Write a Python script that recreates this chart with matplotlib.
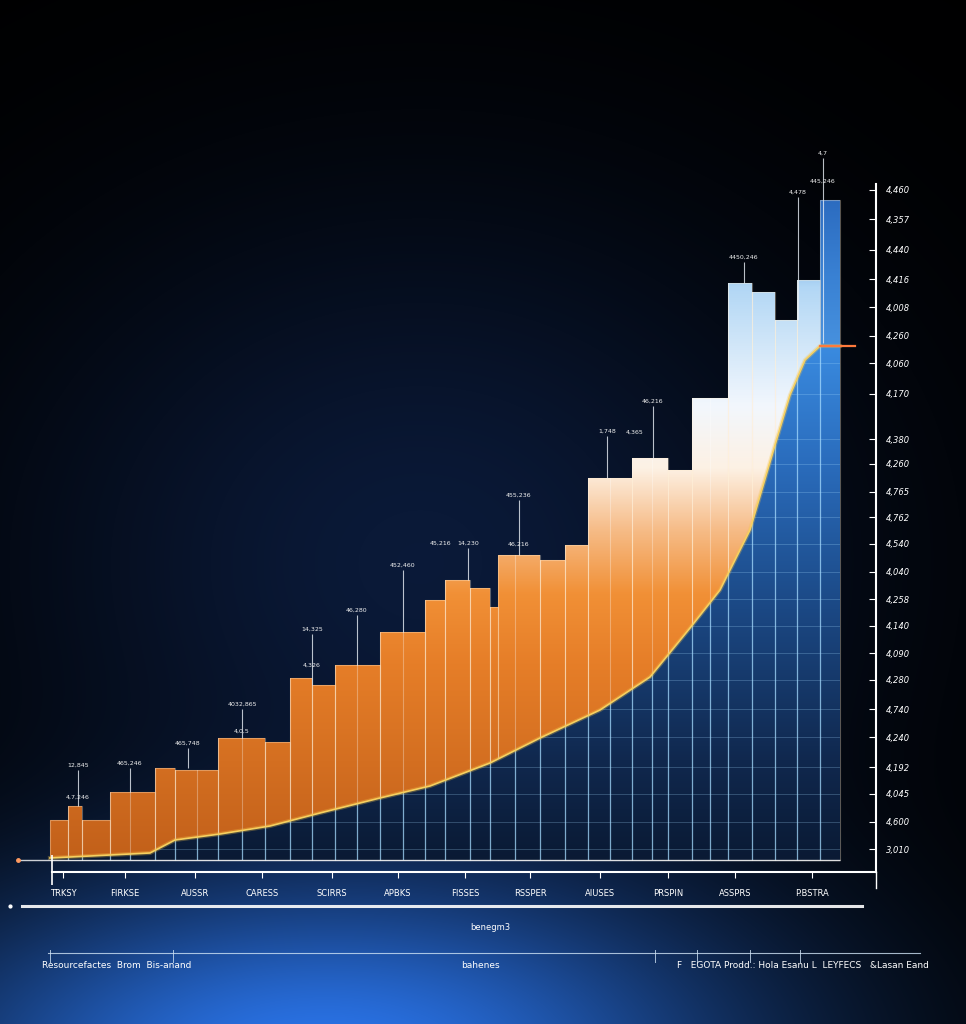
import numpy as np
import matplotlib.pyplot as plt
from matplotlib.path import Path
from matplotlib.patches import PathPatch
from matplotlib.colors import LinearSegmentedColormap

# --- data (x in chart units, values in chart units) ---
bar_edges = [5.0, 6.8, 8.2, 11.0, 15.5, 17.5, 21.8, 26.5, 29.0, 31.2, 33.5, 38.0, 42.5, 44.5,
             47.0, 49.0, 49.8, 54.0, 56.5, 58.8, 63.2, 66.8, 69.2, 72.8, 75.2, 77.5, 79.7, 82.0, 84.0]
bar_heights = [4.0, 5.4, 4.0, 6.8, 9.2, 9.0, 12.2, 11.8, 18.2, 17.5, 19.5, 22.8, 26.0, 28.0,
               27.2, 25.3, 30.5, 30.0, 31.5, 38.2, 40.2, 39.0, 46.2, 57.7, 56.8, 54.0, 58.0, 66.0]

curve_x = [5.0, 15.0, 17.5, 22.0, 27.0, 32.0, 38.0, 43.0, 49.0, 54.0, 60.0, 65.0, 69.0, 72.0,
           75.0, 77.5, 79.0, 80.5, 82.0, 84.0]
curve_y = [0.2, 0.7, 2.0, 2.6, 3.4, 4.7, 6.2, 7.4, 9.7, 12.2, 15.0, 18.3, 23.2, 27.0,
           33.0, 41.5, 46.5, 50.0, 51.4, 51.4]

grid_x = [6.8, 8.2, 11.0, 13.0, 15.5, 17.5, 19.7, 21.8, 24.2, 26.5, 29.0, 31.2, 33.5, 35.7,
          38.0, 40.3, 42.5, 44.5, 47.0, 49.0, 51.5, 54.0, 56.5, 58.8, 61.0, 63.2, 65.2, 66.8,
          69.2, 71.0, 72.8, 75.2, 77.5, 79.7, 82.0]

xtick_pos = [6.3, 12.5, 19.5, 26.2, 33.2, 39.8, 46.5, 53.0, 60.0, 66.8, 73.5, 81.2]
xtick_labels = ["TRKSY", "FIRKSE", "AUSSR", "CARESS", "SCIRRS", "APBKS", "FISSES",
                "RSSPER", "AIUSES", "PRSPIN", "ASSPRS", "P.BSTRA"]

ytick_pos = [67.0, 64.1, 61.0, 58.1, 55.3, 52.4, 49.7, 46.6, 42.1, 39.6, 36.8, 34.3, 31.6,
             28.8, 26.1, 23.4, 20.7, 18.0, 15.1, 12.3, 9.3, 6.6, 3.8, 1.1]
ytick_labels = ["4,460", "4,357", "4,440", "4,416", "4,008", "4,260", "4,060", "4,170",
                "4,380", "4,260", "4,765", "4,762", "4,540", "4,040", "4,258", "4,140",
                "4,090", "4,280", "4,740", "4,240", "4,192", "4,045", "4,600", "3,010"]

ann_x = [7.8, 13.0, 18.8, 24.2, 31.2, 35.7, 40.3, 44.1, 46.8, 51.9, 60.7, 63.5, 65.3, 74.4, 79.8, 82.3]
ann_top = [9.0, 9.2, 11.2, 15.1, 22.6, 24.5, 29.0, 31.2, 31.2, 36.0, 42.4, 42.3, 45.4, 59.8, 66.3, 70.2]
ann_bot = [5.4, 6.8, 9.2, 12.2, 17.5, 19.5, 22.8, 31.2, 28.0, 30.5, 38.2, 42.3, 40.2, 57.7, 54.0, 51.7]
ann_text = ["12,845", "465,246", "465,748", "4032,865", "14,325", "46,280", "452,460", "45,216",
            "14,230", "455,236", "1,748", "4,365", "46,216", "4450,246", "4,478", "4,7"]
ann2_x = [7.8, 24.2, 31.2, 51.9, 82.3]
ann2_y = [6.3, 12.9, 19.5, 31.6, 67.9]
ann2_text = ["4,7,246", "4,0,5", "4,326", "46,216", "445,246"]

W, H = 966, 1024
fig = plt.figure(figsize=(W / 100, H / 100), dpi=100)
fig.patch.set_facecolor("black")

# background glow
bg = fig.add_axes([0, 0, 1, 1], zorder=-1)
bg.set_axis_off()
yy, xx = np.mgrid[0:H, 0:W]
g1 = np.exp(-((xx - 420) ** 2 / (2 * 300 ** 2) + (yy - 560) ** 2 / (2 * 250 ** 2)))
g2 = np.exp(-((xx - 320) ** 2 / (2 * 300 ** 2) + (yy - 1060) ** 2 / (2 * 125 ** 2)))
rgb = g1[..., None] * np.array([0.04, 0.10, 0.22]) + g2[..., None] * np.array([0.16, 0.44, 0.88])
bg.imshow(np.clip(rgb, 0, 1), extent=[0, W, H, 0], aspect="auto")
bg.set_xlim(0, W)
bg.set_ylim(H, 0)

# main chart
ax = fig.add_axes([15 / W, (H - 872) / H, 861 / W, 722 / H])
ax.set_facecolor("none")
ax.set_xlim(1.5, 87.6)
ax.set_ylim(-1.2, 71.0)

lefts = bar_edges[:-1]
widths = np.diff(bar_edges)
bars = ax.bar(lefts, bar_heights, width=widths, align="edge", facecolor="none",
              edgecolor=(1, 0.93, 0.82, 0.35), linewidth=0.8, zorder=3)
bar_path = Path.make_compound_path(*[b.get_path().transformed(b.get_patch_transform()) for b in bars[:-1]])
bar_clip = PathPatch(bar_path, transform=ax.transData, facecolor="none", edgecolor="none")
last = bars[-1]
last_clip = PathPatch(last.get_path().transformed(last.get_patch_transform()),
                      transform=ax.transData, facecolor="none", edgecolor="none")

bar_cmap = LinearSegmentedColormap.from_list("bars", [
    (0.00, "#c2601a"), (0.28, "#e67e28"), (0.38, "#f19036"), (0.47, "#f6bb86"),
    (0.56, "#fdf1e4"), (0.65, "#f2f7fd"), (0.82, "#b2d7f5"), (0.88, "#6aa8e6"), (1.00, "#2f72c6")])
grad = np.linspace(0, 1, 512).reshape(-1, 1)
im = ax.imshow(grad, cmap=bar_cmap, extent=[5.0, 84.0, 0, 70], origin="lower",
               aspect="auto", interpolation="bicubic", zorder=1)
im.set_clip_path(bar_clip)
last_cmap = LinearSegmentedColormap.from_list("last", ["#4a94e0", "#3a82d4", "#2c6cc0"])
im_last = ax.imshow(grad, cmap=last_cmap, extent=[82.0, 84.0, 50, 66], origin="lower",
                    aspect="auto", interpolation="bicubic", zorder=1)
im_last.set_clip_path(last_clip)

# faint grid inside bars
ax.vlines(grid_x, 0, 70, color="white", alpha=0.3, linewidth=0.8, zorder=2).set_clip_path(bar_clip)

# blue area under the curve
area = ax.fill_between(curve_x, 0, curve_y, facecolor="none", edgecolor="none", zorder=4)
area_clip = PathPatch(area.get_paths()[0], transform=ax.transData, facecolor="none", edgecolor="none")
blue_cmap = LinearSegmentedColormap.from_list("blue", [
    (0.00, "#0a1a34"), (0.15, "#10284e"), (0.38, "#1b4884"), (0.60, "#2a6cbc"), (0.78, "#3a8be0"), (1.0, "#3f95ea")])
im2 = ax.imshow(grad, cmap=blue_cmap, extent=[5.0, 84.0, 0, 66], origin="lower",
                aspect="auto", interpolation="bicubic", zorder=5)
im2.set_clip_path(area_clip)
ax.vlines(grid_x, 0, 70, color="#a6dcff", alpha=0.75, linewidth=0.9, zorder=6).set_clip_path(area_clip)
ax.hlines(ytick_pos, 5.0, 84.0, color="#a6dcff", alpha=0.25, linewidth=0.7, zorder=6).set_clip_path(area_clip)

# curve line
ax.plot(curve_x, curve_y, color="#f6c44a", linewidth=3.0, alpha=0.3, zorder=7)
ax.plot(curve_x, curve_y, color="#f6d060", linewidth=1.2, zorder=8)
ax.plot([82.0, 85.5], [51.4, 51.4], color="#ff7a3c", linewidth=1.6, zorder=8)

# baseline
ax.hlines(0, 1.8, 84.0, color="white", alpha=0.8, linewidth=1.0, zorder=8)
ax.plot([1.8], [0], "o", color="#ff9a60", markersize=2.5, zorder=8)
ax.vlines(5.2, -2.5, 0.5, color="white", linewidth=1.2, zorder=8, clip_on=False)

# annotations
ax.vlines(ann_x, ann_bot, ann_top, color="#e8eef5", alpha=0.8, linewidth=0.8, zorder=9)
for x, y, t in zip(ann_x, ann_top, ann_text):
    ax.text(x, y + 0.2, t, fontsize=4.5, color="#f0f0f0", ha="center", va="bottom", zorder=10)
for x, y, t in zip(ann2_x, ann2_y, ann2_text):
    ax.text(x, y, t, fontsize=4.5, color="#f0f0f0", ha="center", va="center", zorder=10)

# spines and ticks
for s in ["top", "left"]:
    ax.spines[s].set_visible(False)
ax.spines["right"].set_color("white")
ax.spines["right"].set_linewidth(1.5)
ax.spines["right"].set_bounds(-1.2, 67.6)
ax.spines["bottom"].set_color("white")
ax.spines["bottom"].set_linewidth(1.5)
ax.spines["bottom"].set_bounds(5.2, 87.6)
ax.yaxis.tick_right()
ax.set_yticks(ytick_pos)
ax.set_yticklabels(ytick_labels, fontsize=6, color="white", fontstyle="italic")
ax.tick_params(axis="y", direction="in", length=5, width=0.8, color="white", pad=7)
ax.set_xticks(xtick_pos)
ax.set_xticklabels(xtick_labels, fontsize=6, color="white")
ax.tick_params(axis="x", direction="out", length=4, width=0.8, color="white", pad=8)

# lower decorations (pixel coordinates)
bg.plot([22, 862], [906, 906], color="white", linewidth=2.2, alpha=0.9)
bg.plot([10], [906], "o", color="white", markersize=2)
bg.plot([876, 876], [872, 888], color="white", linewidth=1.0)
bg.text(490, 928, "benegm3", fontsize=6, color="white", ha="center", va="center")
bg.plot([48, 920], [953, 953], color="#cfe3f5", linewidth=0.8, alpha=0.8)
for tx in [50, 173, 655, 697, 750, 800]:
    bg.plot([tx, tx], [950, 962], color="#cfe3f5", linewidth=0.7, alpha=0.8)
bg.text(42, 965, "Resourcefactes  Brom  Bis-anand", fontsize=6.5, color="white", ha="left", va="center")
bg.text(480, 965, "bahenes", fontsize=6.5, color="white", ha="center", va="center")
bg.text(677, 965, "F   EGOTA Prodd.: Hola Esanu L  LEYFECS   &Lasan Eand", fontsize=6.5,
        color="white", ha="left", va="center")

fig.savefig("out.png", dpi=100, facecolor="black")
